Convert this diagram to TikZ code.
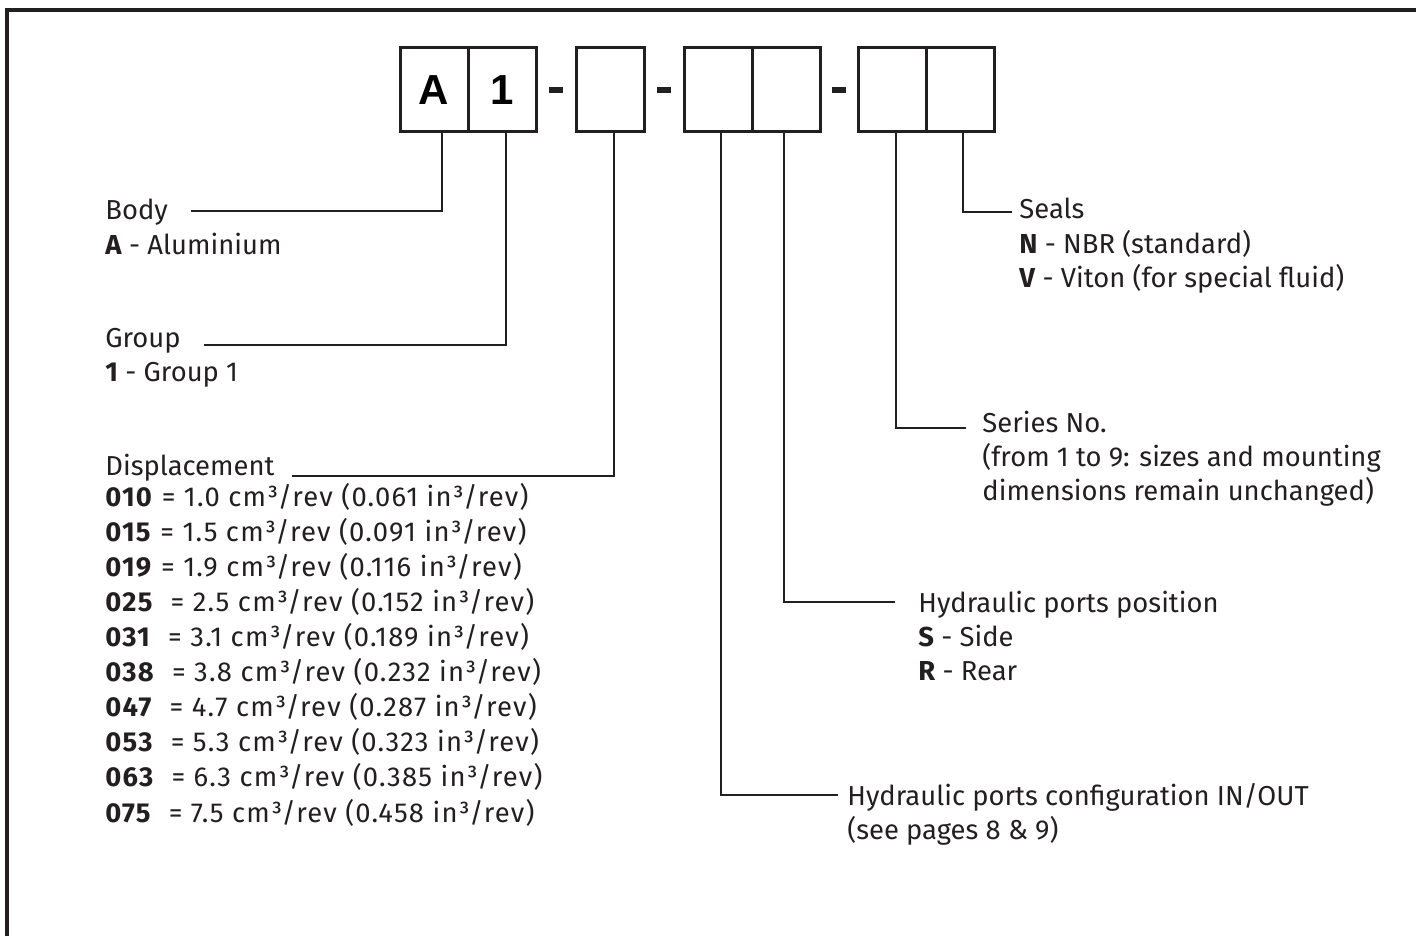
\documentclass[tikz,border=0pt]{standalone}
\usepackage{fontspec}
\setmainfont{Fira Sans}
\newfontfamily\cellfont{Liberation Sans}
\usetikzlibrary{positioning,calc}
\definecolor{ink}{HTML}{231F20}

\tikzset{
  cell/.style={draw=ink, line width=1.5pt, minimum width=34pt, minimum height=42pt,
    inner sep=0pt, outer sep=0pt, font=\cellfont\bfseries\fontsize{21}{21}\selectfont},
  head/.style={anchor=base west, inner sep=0pt, text=ink, font=\fontsize{13.7}{16.75}\selectfont},
  opts/.style={anchor=base west, inner sep=0pt, text=ink, align=left, font=\fontsize{13.7}{16.75}\selectfont},
  lead/.style={draw=ink, line width=1.25pt},
}

\begin{document}
\begin{tikzpicture}[x=0.5pt,y=-0.5pt]
  \useasboundingbox (0,0) rectangle (1416,936);
  \draw[ink, line width=1.8pt] (7,936) -- (7,10) -- (1416,10);

  % ordering code boxes
  \node[cell] (boxA) at (434,90) {A};
  \node[cell, right=0pt of boxA] (box1) {1};
  \node[cell, right=20pt of box1] (boxD) {};
  \node[cell, right=20pt of boxD] (boxP1) {};
  \node[cell, right=0pt of boxP1] (boxP2) {};
  \node[cell, right=19pt of boxP2] (boxS1) {};
  \node[cell, right=0pt of boxS1] (boxS2) {};
  \foreach \l/\r in {box1/boxD, boxD/boxP1, boxP2/boxS1}
    \fill[ink] ($(\l.east)!0.5!(\r.west)$) ++(-3.5pt,-1.5pt) rectangle ++(7pt,3pt);

  % left column (multi-line nodes sit on their last baseline)
  \node[head] (body) at (105,220) {Body};
  \node[opts] (bodyopt) at (105,254) {\textbf{A} - Aluminium};
  \node[head] (group) at (105,347) {Group};
  \node[opts] (groupopt) at (105,381) {\textbf{1} - Group 1};
  \node[head] (displ) at (105,475) {Displacement};
  \node[opts, font=\fontsize{13.7}{17.55}\selectfont\addfontfeatures{LetterSpace=4.5}] (displist) at (105,822) {%
    \textbf{010} = 1.0 cm³/rev (0.061 in³/rev)\\
    \textbf{015} = 1.5 cm³/rev (0.091 in³/rev)\\
    \textbf{019} = 1.9 cm³/rev (0.116 in³/rev)\\
    \textbf{025}~ = 2.5 cm³/rev (0.152 in³/rev)\\
    \textbf{031}~ = 3.1 cm³/rev (0.189 in³/rev)\\
    \textbf{038}~ = 3.8 cm³/rev (0.232 in³/rev)\\
    \textbf{047}~ = 4.7 cm³/rev (0.287 in³/rev)\\
    \textbf{053}~ = 5.3 cm³/rev (0.323 in³/rev)\\
    \textbf{063}~ = 6.3 cm³/rev (0.385 in³/rev)\\
    \textbf{075}~ = 7.5 cm³/rev (0.458 in³/rev)};

  % right column
  \node[head] (seals) at (1019,219) {Seals};
  \node[opts] (sealsopt) at (1019,287) {\textbf{N} - NBR (standard)\\\textbf{V} - Viton (for special fluid)};
  \node[head] (series) at (982,432) {Series No.};
  \node[opts] (seriesopt) at (982,500) {(from 1 to 9: sizes and mounting\\dimensions remain unchanged)};
  \node[head] (position) at (918,612) {Hydraulic ports position};
  \node[opts] (positionopt) at (918,680) {\textbf{S} - Side\\\textbf{R} - Rear};
  \node[head] (config) at (847,805) {Hydraulic ports configuration IN/OUT};
  \node[opts] (configopt) at (847,839) {(see pages 8 \& 9)};

  % leader lines
  \draw[lead] ([xshift=4pt]boxA.south) |- ([xshift=11.5pt,yshift=4.5pt]body.base east);
  \draw[lead] ([xshift=2pt]box1.south) |- ([xshift=11.5pt,yshift=1pt]group.base east);
  \draw[lead] ([xshift=2pt]boxD.south) |- ([xshift=8.5pt,yshift=-0.5pt]displ.base east);
  \draw[lead] ([xshift=1.5pt]boxP1.south) |- ([xshift=-4.5pt,yshift=5pt]config.base west);
  \draw[lead] ([xshift=-1pt]boxP2.south) |- ([xshift=-11.5pt,yshift=5pt]position.base west);
  \draw[lead] ([xshift=2pt]boxS1.south) |- ([xshift=-8pt,yshift=2pt]series.base west);
  \draw[lead] ([xshift=1.5pt]boxS2.south) |- ([xshift=-3.5pt,yshift=3.5pt]seals.base west);
\end{tikzpicture}
\end{document}
